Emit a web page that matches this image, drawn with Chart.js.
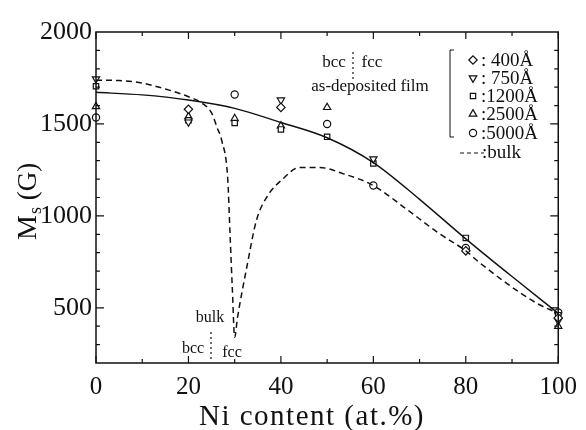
<!DOCTYPE html>
<html>
<head>
<meta charset="utf-8">
<script src="https://cdn.jsdelivr.net/npm/chart.js@4.4.1/dist/chart.umd.min.js"></script>
<style>
  html, body { margin: 0; padding: 0; background: #fff; }
  #wrap { width: 586px; height: 430px; }
</style>
</head>
<body>
<div id="wrap"><canvas id="c" width="586" height="430"></canvas></div>
<script>
// axis ticks
const xTicks = [0, 20, 40, 60, 80, 100];
const yTicks = [500, 1000, 1500, 2000];

// film data (Ni at.% , Ms in G)
const x400 = [20, 40, 80, 100];
const y400 = [1580, 1590, 810, 445];
const x750 = [0, 20, 40, 60, 100];
const y750 = [1745, 1510, 1630, 1310, 430];
const x1200 = [0, 20, 30, 40, 50, 60, 80, 100];
const y1200 = [1705, 1520, 1505, 1470, 1430, 1285, 880, 460];
const x2500 = [0, 20, 30, 40, 50, 100];
const y2500 = [1595, 1540, 1530, 1490, 1590, 400];
const x5000 = [0, 30, 50, 60, 80, 100];
const y5000 = [1535, 1660, 1500, 1165, 825, 475];

// solid curve through film data
const xFit = [0, 10, 20, 30, 40, 50, 60, 70, 80, 90, 100];
const yFit = [1672, 1658, 1630, 1585, 1508, 1425, 1290, 1090, 875, 670, 470];

// bulk curve (bcc branch then fcc branch)
const xBulk = [0, 5, 10, 15, 20, 23, 25, 26.2, 27.2, 28.5, 29, 29.5, 30,
               30.6, 32.6, 34.7, 36.9, 40.5, 44, 48.4, 53.4, 60, 67, 74.3, 80, 83, 95.2, 100];
const yBulk = [1738, 1736, 1722, 1690, 1648, 1612, 1560, 1480, 1410, 1200, 900, 600, 340,
               445, 718, 975, 1100, 1203, 1263, 1263, 1230, 1165, 1040, 903, 810, 745, 527, 470];

const legendLabels = [': 400\u00c5', ': 750\u00c5', ':1200\u00c5', ':2500\u00c5', ':5000\u00c5'];

const SERIF = '"Liberation Serif", "DejaVu Serif", serif';

function pts(xs, ys) { return xs.map((x, i) => ({ x: x, y: ys[i] })); }

function marker(style, rot, r) {
  return {
    showLine: false, pointStyle: style, pointRotation: rot || 0, clip: false,
    pointRadius: r, pointHoverRadius: r, borderColor: '#111', backgroundColor: '#fff',
    pointBorderWidth: 1.2
  };
}

const frame = {
  id: 'frame',
  afterDraw(chart) {
    const ctx = chart.ctx, a = chart.chartArea;
    const xs = chart.scales.x, ys = chart.scales.y;
    ctx.save();
    ctx.strokeStyle = '#111';
    ctx.lineWidth = 1.5;
    ctx.strokeRect(a.left, a.top, a.right - a.left, a.bottom - a.top);
    ctx.lineWidth = 1.2;
    ctx.beginPath();
    for (let v = 0; v <= 100; v += 10) {
      const p = xs.getPixelForValue(v);
      const len = v % 20 === 0 ? 7 : 4;
      ctx.moveTo(p, a.bottom); ctx.lineTo(p, a.bottom - len);
      ctx.moveTo(p, a.top); ctx.lineTo(p, a.top + len);
    }
    for (let v = 300; v < 2000; v += 100) {
      const p = ys.getPixelForValue(v);
      const len = v % 500 === 0 ? 8 : 4;
      ctx.moveTo(a.left, p); ctx.lineTo(a.left + len, p);
      ctx.moveTo(a.right, p); ctx.lineTo(a.right - len, p);
    }
    ctx.stroke();

    // axis titles
    ctx.fillStyle = '#111';
    ctx.textBaseline = 'alphabetic';
    ctx.font = '29px ' + SERIF;
    ctx.textAlign = 'center';
    ctx.letterSpacing = '1.5px';
    ctx.fillText('Ni content (at.%)', 312, 425);
    ctx.letterSpacing = '0px';

    ctx.save();
    ctx.translate(36, 240);
    ctx.rotate(-Math.PI / 2);
    ctx.textAlign = 'left';
    ctx.font = '28px ' + SERIF;
    ctx.fillText('M', 0, 0);
    let w = ctx.measureText('M').width;
    ctx.font = '18px ' + SERIF;
    ctx.fillText('s', w + 1, 5);
    w += ctx.measureText('s').width + 1;
    ctx.font = '27px ' + SERIF;
    ctx.fillText(' (G)', w, 0);
    ctx.restore();

    // annotations
    ctx.font = '17px ' + SERIF;
    ctx.textAlign = 'center';
    ctx.textBaseline = 'middle';
    ctx.fillText('bcc', 334, 63);
    ctx.fillText('fcc', 372, 63);
    ctx.fillText('as-deposited film', 370, 87);
    ctx.font = '16px ' + SERIF;
    ctx.fillText('bulk', 210, 318);
    ctx.fillText('bcc', 193, 349);
    ctx.fillText('fcc', 232, 353);

    ctx.lineWidth = 1.2;
    ctx.setLineDash([2, 3]);
    ctx.beginPath();
    ctx.moveTo(353, 52); ctx.lineTo(353, 82);
    ctx.moveTo(211, 332); ctx.lineTo(211, 362);
    ctx.stroke();
    ctx.setLineDash([]);

    // legend
    ctx.lineWidth = 1;
    ctx.beginPath();
    ctx.moveTo(454, 50); ctx.lineTo(450, 50); ctx.lineTo(450, 137); ctx.lineTo(454, 137);
    ctx.stroke();
    const rowY = [60, 78, 96, 114, 133];
    const styles = [['rectRot', 0, 4.2], ['triangle', 180, 4.4], ['rect', 0, 3.8], ['triangle', 0, 4.4], ['circle', 0, 3.6]];
    ctx.textAlign = 'left';
    ctx.font = '19px ' + SERIF;
    rowY.forEach((y, i) => {
      ctx.strokeStyle = '#111';
      ctx.fillStyle = '#fff';
      ctx.lineWidth = 1.2;
      Chart.helpers.drawPoint(ctx, { pointStyle: styles[i][0], rotation: styles[i][1], radius: styles[i][2], borderWidth: 1.2 }, 473, y);
      ctx.fillStyle = '#111';
      ctx.fillText(legendLabels[i], 481, y + 1);
    });
    ctx.setLineDash([4, 3]);
    ctx.beginPath();
    ctx.moveTo(460, 153); ctx.lineTo(484, 153);
    ctx.stroke();
    ctx.setLineDash([]);
    ctx.fillText(':bulk', 482, 153);
    ctx.restore();
  }
};

new Chart(document.getElementById('c'), {
  type: 'scatter',
  data: {
    datasets: [
      { data: pts(xBulk, yBulk), showLine: true, pointRadius: 0, borderColor: '#111', borderWidth: 1.5,
        borderDash: [6, 4], cubicInterpolationMode: 'monotone', fill: false },
      { data: pts(xFit, yFit), showLine: true, pointRadius: 0, borderColor: '#111', borderWidth: 1.4,
        cubicInterpolationMode: 'monotone', fill: false },
      Object.assign({ data: pts(x400, y400) }, marker('rectRot', 0, 4.2)),
      Object.assign({ data: pts(x750, y750) }, marker('triangle', 180, 4.2)),
      Object.assign({ data: pts(x1200, y1200) }, marker('rect', 0, 3.8)),
      Object.assign({ data: pts(x2500, y2500) }, marker('triangle', 0, 4.2)),
      Object.assign({ data: pts(x5000, y5000) }, marker('circle', 0, 3.6))
    ]
  },
  options: {
    responsive: false,
    animation: false,
    devicePixelRatio: 1,
    layout: { padding: { left: 0, right: 27, top: 32, bottom: 0 } },
    plugins: { legend: { display: false }, tooltip: { enabled: false } },
    scales: {
      x: {
        type: 'linear', min: 0, max: 100,
        afterBuildTicks: s => { s.ticks = xTicks.map(v => ({ value: v })); },
        afterFit: s => { s.height = 67; },
        grid: { display: false, drawTicks: false },
        border: { display: false },
        ticks: { padding: 9, color: '#111', font: { family: SERIF, size: 25 }, maxRotation: 0,
                 callback: v => String(v) }
      },
      y: {
        type: 'linear', min: 200, max: 2000,
        afterBuildTicks: s => { s.ticks = yTicks.map(v => ({ value: v })); },
        afterFit: s => { s.width = 96; },
        grid: { display: false, drawTicks: false },
        border: { display: false },
        ticks: { padding: 4, color: '#111', font: { family: SERIF, size: 26 },
                 callback: v => String(v) }
      }
    }
  },
  plugins: [frame]
});
</script>
</body>
</html>
